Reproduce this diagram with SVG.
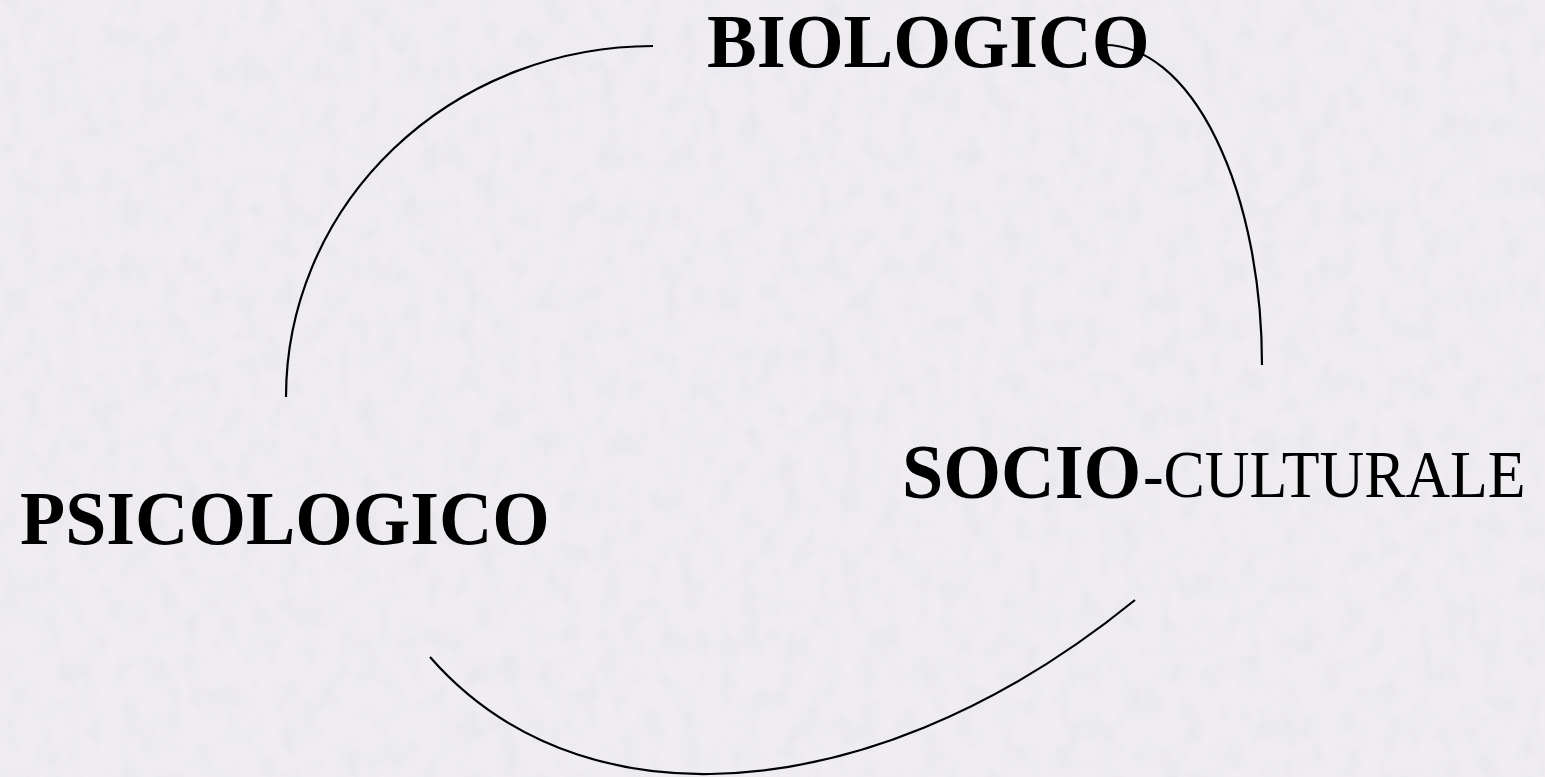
<svg xmlns="http://www.w3.org/2000/svg" width="1545" height="777" viewBox="0 0 1545 777">
<defs>
<filter id="paper" x="0" y="0" width="100%" height="100%">
<feTurbulence type="fractalNoise" baseFrequency="0.05 0.035" numOctaves="4" seed="7" result="n"/>
<feColorMatrix in="n" type="matrix" values="0 0 0 0 0.55  0 0 0 0 0.55  0 0 0 0 0.6  0 0 0 1.2 -0.5"/>
</filter>
</defs>
<style>
.lbl{font-family:"Liberation Serif","Times New Roman",serif;fill:#000}
.b{font-weight:bold}
.arc{fill:none;stroke:#000;stroke-width:2.2}
</style>
<rect width="1545" height="777" fill="#efedf2"/>
<rect width="1545" height="777" filter="url(#paper)" opacity="0.22"/>
<g id="connectors">
<path class="arc" d="M286,397 A367,351 0 0 1 653,46"/>
<path class="arc" d="M1105,45 A157,320 0 0 1 1262,365"/>
<path class="arc" d="M430,657 C520,760 640,775 710,774 C850,772 1000,710 1135,600"/>
</g>
<g id="biologico"><text class="lbl b" font-size="76" transform="translate(707,67) scale(0.98,1)">BIOLOGICO</text></g>
<g id="psicologico"><text class="lbl b" font-size="77" transform="translate(20,544) scale(0.96,1)">PSICOLOGICO</text></g>
<g id="socioculturale"><text class="lbl b" font-size="79" transform="translate(902,498) scale(0.94,1)">SOCIO</text><text class="lbl" font-size="68" transform="translate(1143,497) scale(0.91,1)">-CULTURALE</text></g>
</svg>
